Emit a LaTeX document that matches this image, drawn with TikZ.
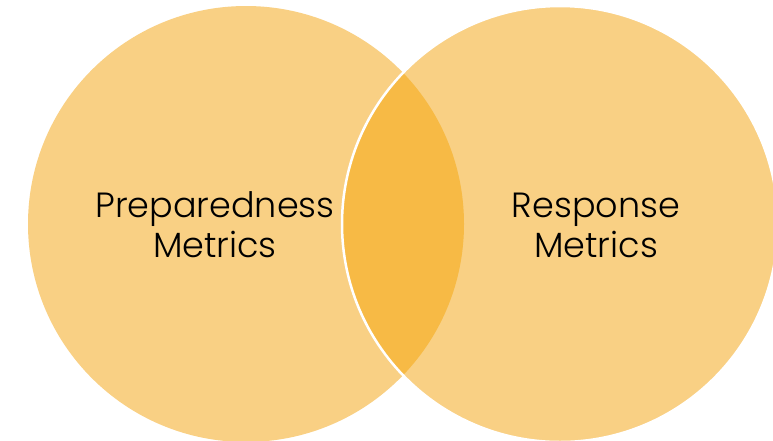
\documentclass[tikz,border=0pt]{standalone}
\usepackage{fontspec}
\setmainfont{Poppins Light}
\definecolor{circfill}{HTML}{F9D084}
\definecolor{lensfill}{HTML}{F7BA45}
\tikzset{
  venn/.style={circle, inner sep=0pt, minimum size=436pt, fill=circfill},
  label/.style={align=center, text=black, font=\fontsize{35}{40}\selectfont, inner sep=0pt}
}
\begin{document}
\begin{tikzpicture}[x=1pt,y=-1pt]
\useasboundingbox[fill=white] (0,0) rectangle (773,440);
\node[venn] (L) at (246,224) {};
\node[venn] (R) at (560,224) {};
\begin{scope}
  \clip (246,224) circle (218);
  \fill[lensfill] (560,224) circle (218);
\end{scope}
\draw[white, line width=2.5pt] (R.center) circle (218);
\node[label] (tl) at (215,225) {Preparedness\\Metrics};
\node[label] (tr) at (596,225) {Response\\Metrics};
\end{tikzpicture}
\end{document}
